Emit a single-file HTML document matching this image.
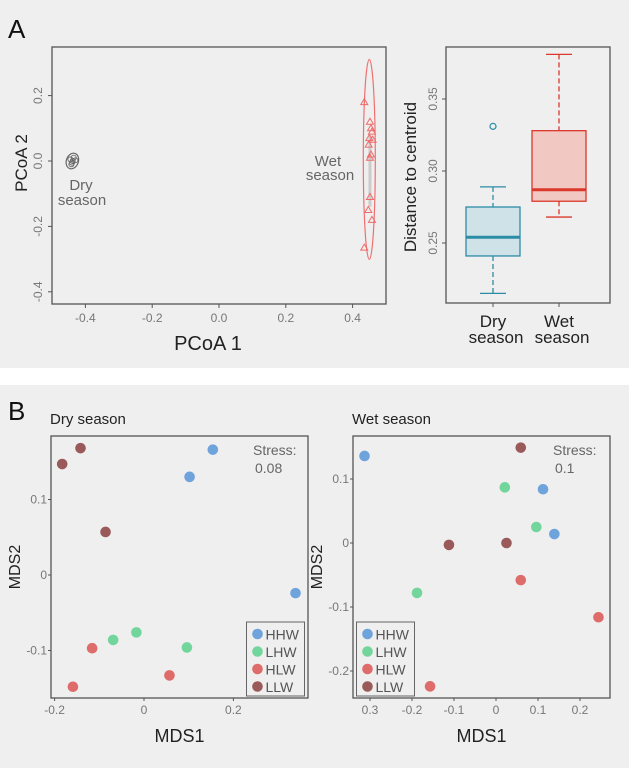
<!DOCTYPE html>
<html><head><meta charset="utf-8">
<style>
html,body{margin:0;padding:0;background:#fff;}
svg{display:block;font-family:"Liberation Sans",Arial,sans-serif;}
</style></head>
<body>
<svg id="fig" width="629" height="768" viewBox="0 0 629 768" xmlns="http://www.w3.org/2000/svg">
<rect x="0" y="0" width="629" height="368" fill="#efefef"/>
<rect x="0" y="385" width="629" height="383" fill="#efefef"/>
<text x="8" y="38" font-size="26" fill="#111">A</text>
<text x="8" y="420" font-size="26" fill="#111">B</text>
<g id="g"></g>
</svg>
<script>
// ---- Panel A: PCoA data ----
const pcoaXTicks = [-0.4, -0.2, 0.0, 0.2, 0.4];
const pcoaYTicks = [0.2, 0.0, -0.2, -0.4];
const wetX = [0.435, 0.452, 0.455, 0.458, 0.450, 0.460, 0.448, 0.455, 0.452, 0.452, 0.447, 0.458, 0.435];
const wetY = [0.18, 0.12, 0.10, 0.09, 0.07, 0.065, 0.05, 0.02, 0.01, -0.11, -0.15, -0.18, -0.265];
const dryX = [-0.445, -0.44, -0.435, -0.442, -0.438, -0.43];
const dryY = [0.005, -0.005, 0.01, -0.01, 0.0, 0.002];
// ---- Panel A: boxplot data ----
const boxGroups = ["Dry season", "Wet season"];
const boxMin = [0.215, 0.268];
const boxQ1 = [0.241, 0.279];
const boxMed = [0.254, 0.287];
const boxQ3 = [0.275, 0.328];
const boxMax = [0.289, 0.381];
const boxOutliers = [[0.331], []];
const boxYTicks = [0.25, 0.30, 0.35];
// ---- Panel B: NMDS data ----
const groups = ["HHW", "LHW", "HLW", "LLW"];
const groupColors = ["#6fa3dc", "#72d69c", "#dd6c6a", "#9b5a5a"];
const dryMds1 = [[0.154, 0.102, 0.339], [-0.069, -0.017, 0.096], [-0.116, -0.159, 0.057], [-0.183, -0.142, -0.086]];
const dryMds2 = [[0.166, 0.130, -0.024], [-0.086, -0.076, -0.096], [-0.097, -0.148, -0.133], [0.147, 0.168, 0.057]];
const wetMds1 = [[-0.313, 0.112, 0.139], [0.021, 0.096, -0.188], [0.059, 0.244, -0.157], [0.059, -0.112, 0.025]];
const wetMds2 = [[0.136, 0.084, 0.014], [0.087, 0.025, -0.078], [-0.058, -0.116, -0.224], [0.149, -0.003, 0.0]];
const dryXTicks = [-0.2, 0, 0.2];
const dryXTickLabels = ["-0.2", "0", "0.2"];
const dryYTicks = [0.1, 0, -0.1];
const dryYTickLabels = ["0.1", "0", "-0.1"];
const wetXTicks = [-0.3, -0.2, -0.1, 0, 0.1, 0.2];
const wetXTickLabels = ["0.3", "-0.2", "-0.1", "0", "0.1", "0.2"];
const wetYTicks = [0.1, 0, -0.1, -0.2];
const wetYTickLabels = ["0.1", "0", "-0.1", "-0.2"];

const NS = "http://www.w3.org/2000/svg";
const G = document.getElementById("g");
function mk(tag, attrs, parent, txt){
  const e = document.createElementNS(NS, tag);
  for (const k in attrs) e.setAttribute(k, attrs[k]);
  if (txt !== undefined) e.textContent = txt;
  (parent || G).appendChild(e);
  return e;
}
function lin(d0, d1, r0, r1){ return v => r0 + (v - d0) * (r1 - r0) / (d1 - d0); }

// ===== PCoA plot =====
const px = lin(0, 0.1, 219, 252.4);
const py = lin(0, 0.1, 161, 128.3);
let e = mk("rect", {x:52, y:47, width:334, height:257, fill:"none", stroke:"#555", "stroke-width":1.3});


pcoaXTicks.forEach(t => {
  const x = px(t);
  let l = mk("line", {x1:x, x2:x, y1:304, y2:308, stroke:"#555"});
  
  
  let tx = mk("text", {x:x, y:322, "font-size":12, fill:"#777", "text-anchor":"middle"}, G, t.toFixed(1));
  
  
});
pcoaYTicks.forEach(t => {
  const y = py(t);
  let l = mk("line", {x1:48, x2:52, y1:y, y2:y, stroke:"#555"});
  
  
  let tx = mk("text", {x:0, y:0, "font-size":12, fill:"#777", "text-anchor":"middle", transform:`translate(42,${y}) rotate(-90)`}, G, t.toFixed(1));
  
  
});
e = mk("text", {x:208, y:350, "font-size":20, fill:"#222", "text-anchor":"middle"}, G, "PCoA 1");


e = mk("text", {x:0, y:0, "font-size":17, fill:"#222", "text-anchor":"middle", transform:"translate(27,163) rotate(-90)"}, G, "PCoA 2");


e = mk("ellipse", {cx:px(0.45), cy:py(0.005), rx:6, ry:100, fill:"none", stroke:"#f07070", "stroke-width":1.2});


e = mk("line", {x1:px(0.452), x2:px(0.452), y1:py(0.08), y2:py(-0.14), stroke:"#ccc", "stroke-width":3});


wetX.forEach((v,i) => {
  const x = px(v), y = py(wetY[i]);
  let t = mk("polygon", {points:`${x},${y-3.5} ${x-3.5},${y+2.5} ${x+3.5},${y+2.5}`, fill:"none", stroke:"#f06a6a", "stroke-width":1});
  
  
});
e = mk("ellipse", {cx:px(-0.439), cy:py(0.0), rx:6, ry:8, fill:"none", stroke:"#666", "stroke-width":1.2, transform:`rotate(20 ${px(-0.439)} ${py(0)})`});


dryX.forEach((v,i) => {
  let c = mk("circle", {cx:px(v), cy:py(dryY[i]), r:2.5, fill:"none", stroke:"#666", "stroke-width":0.9});
  
  
});
e = mk("text", {x:81, y:190, "font-size":15, fill:"#666", "text-anchor":"middle"}, G, "Dry");


e = mk("text", {x:82, y:205, "font-size":15, fill:"#666", "text-anchor":"middle"}, G, "season");


e = mk("text", {x:328, y:166, "font-size":15, fill:"#666", "text-anchor":"middle"}, G, "Wet");


e = mk("text", {x:330, y:180, "font-size":15, fill:"#666", "text-anchor":"middle"}, G, "season");



// ===== Boxplot =====
const by = lin(0.30, 0.35, 171, 99);
const bxPos = [493, 559];
const boxFill = ["#cfe2e8", "#f2c8c2"];
const boxStroke = ["#2b8ca6", "#d9382a"];
e = mk("rect", {x:446, y:47, width:164, height:256, fill:"none", stroke:"#555", "stroke-width":1.3});


boxYTicks.forEach(t => {
  const y = by(t);
  let l = mk("line", {x1:442, x2:446, y1:y, y2:y, stroke:"#555"});
  
  
  let tx = mk("text", {x:0, y:0, "font-size":12, fill:"#777", "text-anchor":"middle", transform:`translate(437,${y}) rotate(-90)`}, G, t.toFixed(2));
  
  
});
e = mk("text", {x:0, y:0, "font-size":17, fill:"#222", "text-anchor":"middle", transform:"translate(416,177) rotate(-90)"}, G, "Distance to centroid");


boxGroups.forEach((g,i) => {
  const x = bxPos[i], w = 27, c = boxStroke[i];
  let l = mk("line", {x1:x, x2:x, y1:303, y2:307, stroke:"#555"});
  
  
  const parts = g.split(" ");
  let t1 = mk("text", {x:x, y:327, "font-size":17, fill:"#222", "text-anchor":"middle"}, G, parts[0]);
  
  
  let t2 = mk("text", {x:x+3, y:343, "font-size":17, fill:"#222", "text-anchor":"middle"}, G, parts[1]);
  
  
  let wh = mk("line", {x1:x, x2:x, y1:by(boxMax[i]), y2:by(boxQ3[i]), stroke:c, "stroke-width":1.3, "stroke-dasharray":"5,3"});
  
  
  wh = mk("line", {x1:x, x2:x, y1:by(boxQ1[i]), y2:by(boxMin[i]), stroke:c, "stroke-width":1.3, "stroke-dasharray":"5,3"});
  
  
  [boxMax[i], boxMin[i]].forEach(v => {
    let cap = mk("line", {x1:x-13, x2:x+13, y1:by(v), y2:by(v), stroke:c, "stroke-width":1.3});
    
    
  });
  let b = mk("rect", {x:x-w, y:by(boxQ3[i]), width:2*w, height:by(boxQ1[i])-by(boxQ3[i]), fill:boxFill[i], stroke:c, "stroke-width":1.3});
  
  
  let m = mk("line", {x1:x-w, x2:x+w, y1:by(boxMed[i]), y2:by(boxMed[i]), stroke:c, "stroke-width":3});
  
  
  boxOutliers[i].forEach(v => {
    let o = mk("circle", {cx:x, cy:by(v), r:3, fill:"none", stroke:c, "stroke-width":1.2});
    
    
  });
});

// ===== NMDS plots =====
function nmds(cfg){
  const {name, box, x0, xUnit, y0, yUnit, xs, ys, xTicks, xLabels, yTicks, yLabels, legendX, stress, stressX, title} = cfg;
  const sx = v => x0 + v * xUnit * 100;
  const sy = v => y0 - v * yUnit * 100;
  let f = mk("rect", {x:box[0], y:box[1], width:box[2]-box[0], height:box[3]-box[1], fill:"none", stroke:"#555", "stroke-width":1.3});
  
  
  let t = mk("text", {x:box[0]-1, y:424, "font-size":15, fill:"#222"}, G, title);
  
  
  xTicks.forEach((v,i) => {
    const x = sx(v);
    let l = mk("line", {x1:x, x2:x, y1:box[3], y2:box[3]+3, stroke:"#555"});
    
    
    let tx = mk("text", {x:x, y:box[3]+16, "font-size":12, fill:"#777", "text-anchor":"middle"}, G, xLabels[i]);
    
    
  });
  yTicks.forEach((v,i) => {
    const y = sy(v);
    let l = mk("line", {x1:box[0]-3, x2:box[0], y1:y, y2:y, stroke:"#555"});
    
    
    let tx = mk("text", {x:box[0]-4, y:y+4, "font-size":12, fill:"#777", "text-anchor":"end"}, G, yLabels[i]);
    
    
  });
  let xt = mk("text", {x:(box[0]+box[2])/2, y:742, "font-size":18, fill:"#222", "text-anchor":"middle"}, G, "MDS1");
  
  
  let yt = mk("text", {x:0, y:0, "font-size":16, fill:"#222", "text-anchor":"middle", transform:`translate(${box[0]-31},${(box[1]+box[3])/2}) rotate(-90)`}, G, "MDS2");
  
  
  let s1 = mk("text", {x:stressX, y:455, "font-size":14, fill:"#666"}, G, "Stress:");
  
  
  let s2 = mk("text", {x:stressX+2, y:473, "font-size":14, fill:"#666"}, G, stress);
  
  
  groups.forEach((g,gi) => {
    xs[gi].forEach((v,j) => {
      let c = mk("circle", {cx:sx(v), cy:sy(ys[gi][j]), r:5.3, fill:groupColors[gi]});
      
      
    });
  });
  let lb = mk("rect", {x:legendX, y:622, width:58, height:74, fill:"#efefef", stroke:"#666", "stroke-width":1});
  
  
  groups.forEach((g,gi) => {
    const y = 634 + gi*17.5;
    let c = mk("circle", {cx:legendX+11, cy:y, r:5.3, fill:groupColors[gi]});
    
    
    let tx = mk("text", {x:legendX+19, y:y+5.5, "font-size":14, fill:"#555"}, G, g);
    
    
  });
}
nmds({name:"dry-nmds", box:[51,436,308,698], x0:144, xUnit:4.47, y0:575, yUnit:7.55, xs:dryMds1, ys:dryMds2,
  xTicks:dryXTicks, xLabels:dryXTickLabels, yTicks:dryYTicks, yLabels:dryYTickLabels, legendX:246.5, stress:"0.08", stressX:253, title:"Dry season"});
nmds({name:"wet-nmds", box:[353,436,610,698], x0:496, xUnit:4.2, y0:543, yUnit:6.4, xs:wetMds1, ys:wetMds2,
  xTicks:wetXTicks, xLabels:wetXTickLabels, yTicks:wetYTicks, yLabels:wetYTickLabels, legendX:356.5, stress:"0.1", stressX:553, title:"Wet season"});
</script>
</body></html>
